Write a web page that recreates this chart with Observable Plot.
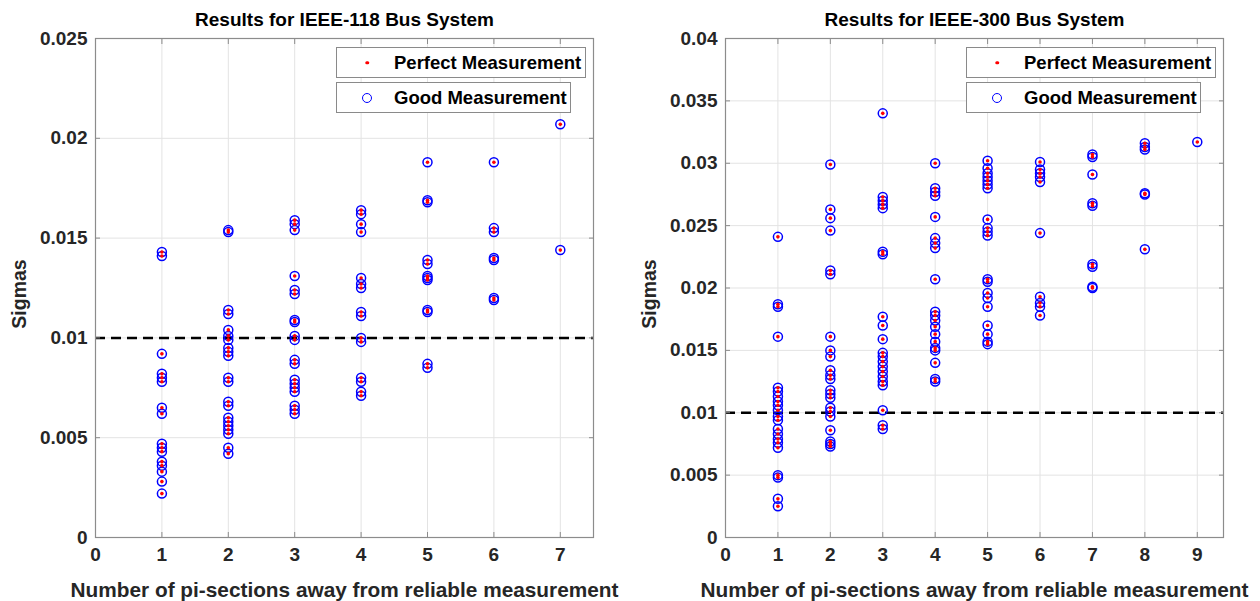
<!DOCTYPE html>
<html>
<head>
<meta charset="utf-8">
<script src="https://cdn.jsdelivr.net/npm/d3@7"></script>
<script src="https://cdn.jsdelivr.net/npm/@observablehq/plot@0.6"></script>
<style>
  body { margin: 0; background: #fff; font-family: "Liberation Sans", Arial, sans-serif; }
  #wrap { position: relative; width: 1260px; height: 601px; overflow: hidden; }
  .panel { position: absolute; top: 0; width: 630px; height: 601px; }
  .legend { position: absolute; background: #fff; border: 1.5px solid #8a8a8a; box-sizing: border-box;
            font-weight: bold; font-size: 18.5px; color: #000; }
  .legend .txt { position: absolute; left: 57px; top: 50%; transform: translateY(-50%); white-space: nowrap; }
  .legend .mk { position: absolute; left: 30px; top: 50%; transform: translate(-50%, -50%); border-radius: 50%; box-sizing: border-box; }
  .legend .mk.red { width: 3.5px; height: 3.5px; background: #ff0000; }
  .legend .mk.blue { width: 10px; height: 10px; border: 1.3px solid #0000ff; }
</style>
</head>
<body>
<div id="wrap">
  <div class="panel" id="p118" style="left:0px"></div>
  <div class="panel" id="p300" style="left:630px"></div>
</div>
<script>
// ---------- data ----------
const legendLabels = ["Perfect Measurement", "Good Measurement"];
const xLabel = "Number of pi-sections away from reliable measurement";
const yLabel = "Sigmas";
const threshold = 0.01;

// IEEE-118
const title118 = "Results for IEEE-118 Bus System";
const sections118 = [1, 2, 3, 4, 5, 6, 7];
const sigma118 = [
  [0.0143, 0.0141, 0.0092, 0.0082, 0.0080, 0.0078, 0.0065, 0.0062, 0.0047, 0.0045, 0.0043, 0.0038, 0.0036, 0.0033, 0.0028, 0.0022],
  [0.0154, 0.0153, 0.0114, 0.0112, 0.0104, 0.0101, 0.0099, 0.0095, 0.0093, 0.0091, 0.0080, 0.0078, 0.0068, 0.0066, 0.0060, 0.0058, 0.0056, 0.0054, 0.0052, 0.0045, 0.0042],
  [0.0159, 0.0157, 0.0154, 0.0131, 0.0124, 0.0122, 0.0109, 0.0108, 0.0101, 0.0099, 0.0089, 0.0087, 0.0079, 0.0077, 0.0075, 0.0073, 0.0066, 0.0064, 0.0062],
  [0.0164, 0.0162, 0.0157, 0.0153, 0.0130, 0.0127, 0.0125, 0.0113, 0.0111, 0.0100, 0.0098, 0.0080, 0.0078, 0.0073, 0.0071],
  [0.0188, 0.0169, 0.0168, 0.0139, 0.0137, 0.0131, 0.0130, 0.0129, 0.0114, 0.0113, 0.0087, 0.0085],
  [0.0188, 0.0155, 0.0153, 0.0140, 0.0139, 0.0120, 0.0119],
  [0.0207, 0.0144]
];
const xTicks118 = [0, 1, 2, 3, 4, 5, 6, 7];
const xTickLabels118 = ["0", "1", "2", "3", "4", "5", "6", "7"];
const yTicks118 = [0, 0.005, 0.01, 0.015, 0.02, 0.025];
const yTickLabels118 = ["0", "0.005", "0.01", "0.015", "0.02", "0.025"];
const xMax118 = 7.5, yMax118 = 0.025;

// IEEE-300
const title300 = "Results for IEEE-300 Bus System";
const sections300 = [1, 2, 3, 4, 5, 6, 7, 8, 9];
const sigma300 = [
  [0.0241, 0.0187, 0.0185, 0.0161, 0.0120, 0.0117, 0.0113, 0.0109, 0.0106, 0.0102, 0.0097, 0.0094, 0.0087, 0.0083, 0.0079, 0.0076, 0.0072, 0.0050, 0.0048, 0.0031, 0.0025],
  [0.0299, 0.0263, 0.0256, 0.0246, 0.0214, 0.0211, 0.0161, 0.0150, 0.0145, 0.0134, 0.0130, 0.0127, 0.0118, 0.0115, 0.0112, 0.0104, 0.0101, 0.0097, 0.0086, 0.0077, 0.0075, 0.0073],
  [0.0340, 0.0273, 0.0270, 0.0267, 0.0264, 0.0229, 0.0227, 0.0177, 0.0170, 0.0159, 0.0148, 0.0145, 0.0141, 0.0137, 0.0133, 0.0129, 0.0125, 0.0122, 0.0102, 0.0090, 0.0087],
  [0.0300, 0.0280, 0.0277, 0.0274, 0.0257, 0.0240, 0.0236, 0.0232, 0.0207, 0.0181, 0.0178, 0.0174, 0.0169, 0.0163, 0.0157, 0.0152, 0.0150, 0.0140, 0.0127, 0.0125],
  [0.0302, 0.0296, 0.0292, 0.0289, 0.0286, 0.0283, 0.0280, 0.0255, 0.0248, 0.0245, 0.0242, 0.0207, 0.0205, 0.0196, 0.0192, 0.0185, 0.0170, 0.0163, 0.0157, 0.0155],
  [0.0301, 0.0295, 0.0292, 0.0289, 0.0285, 0.0244, 0.0193, 0.0188, 0.0185, 0.0178],
  [0.0307, 0.0305, 0.0291, 0.0268, 0.0266, 0.0219, 0.0217, 0.0201, 0.0200],
  [0.0316, 0.0313, 0.0311, 0.0276, 0.0275, 0.0231],
  [0.0317]
];
const xTicks300 = [0, 1, 2, 3, 4, 5, 6, 7, 8, 9];
const xTickLabels300 = ["0", "1", "2", "3", "4", "5", "6", "7", "8", "9"];
const yTicks300 = [0, 0.005, 0.01, 0.015, 0.02, 0.025, 0.03, 0.035, 0.04];
const yTickLabels300 = ["0", "0.005", "0.01", "0.015", "0.02", "0.025", "0.03", "0.035", "0.04"];
const xMax300 = 9.5, yMax300 = 0.04;

// ---------- drawing ----------
function drawPanel(el, cfg) {
  const rows = cfg.sections.flatMap((s, i) => cfg.sigmas[i].map(v => ({section: s, sigma: v})));
  const axisColor = "#8c8c8c";
  const gridColor = "#e3e3e3";
  const fx = d => cfg.xLabels[cfg.xTicks.indexOf(d)];
  const fy = d => cfg.yLabels[cfg.yTicks.indexOf(d)];
  const chart = Plot.plot({
    width: 630, height: 601,
    marginLeft: 95, marginRight: 37, marginTop: 38, marginBottom: 64,
    style: {fontFamily: "'Liberation Sans', Arial, sans-serif", fontSize: "19px", fontWeight: "bold", color: "#262626", background: "white", overflow: "visible"},
    x: {domain: [0, cfg.xMax], label: null},
    y: {domain: [0, cfg.yMax], label: null},
    marks: [
      Plot.gridX(cfg.xTicks, {stroke: gridColor, strokeOpacity: 1}),
      Plot.gridY(cfg.yTicks, {stroke: gridColor, strokeOpacity: 1}),
      Plot.ruleY([threshold], {stroke: "black", strokeWidth: 2.5, strokeDasharray: "10,6"}),
      Plot.dot(rows, {x: "section", y: "sigma", r: 4.5, stroke: "#0000ff", strokeWidth: 1.5, fill: "none"}),
      Plot.dot(rows, {x: "section", y: "sigma", r: 1.8, fill: "#ff0000", stroke: "none"}),
      Plot.frame({stroke: axisColor, strokeWidth: 1.2}),
      Plot.axisX(cfg.xTicks, {anchor: "bottom", tickSize: -5, tickPadding: 15, stroke: axisColor, tickFormat: fx, fill: "#262626"}),
      Plot.axisX(cfg.xTicks, {anchor: "top", tickSize: -5, stroke: axisColor, tickFormat: () => ""}),
      Plot.axisY(cfg.yTicks, {anchor: "left", tickSize: -5, tickPadding: 13, stroke: axisColor, tickFormat: fy, fill: "#262626"}),
      Plot.axisY(cfg.yTicks, {anchor: "right", tickSize: -5, stroke: axisColor, tickFormat: () => ""}),
      Plot.text([cfg.title], {text: d => d, frameAnchor: "top", dy: -19, fontSize: 19, fontWeight: "bold", fill: "black", lineAnchor: "middle", textAnchor: "middle"}),
      Plot.text([xLabel], {text: d => d, frameAnchor: "bottom", dy: 53, fontSize: 20.8, fontWeight: "bold", fill: "#262626", lineAnchor: "middle", textAnchor: "middle"}),
      Plot.text([yLabel], {text: d => d, frameAnchor: "left", dx: -76, dy: 6, rotate: -90, fontSize: 19.5, fontWeight: "bold", fill: "#262626", lineAnchor: "middle", textAnchor: "middle"})
    ]
  });
  el.appendChild(chart);

  // legend boxes (two separate boxes, as in the reference)
  const boxes = [
    {top: 47, width: 250, cls: "red", label: legendLabels[0]},
    {top: 82, width: 235, cls: "blue", label: legendLabels[1]}
  ];
  boxes.forEach(b => {
    const d = document.createElement("div");
    d.className = "legend";
    d.style.left = "336px";
    d.style.top = b.top + "px";
    d.style.width = b.width + "px";
    d.style.height = "31px";
    d.innerHTML = `<span class="mk ${b.cls}"></span><span class="txt">${b.label}</span>`;
    el.appendChild(d);
  });
}

drawPanel(document.getElementById("p118"), {
  title: title118, sections: sections118, sigmas: sigma118,
  xTicks: xTicks118, xLabels: xTickLabels118, yTicks: yTicks118, yLabels: yTickLabels118,
  xMax: xMax118, yMax: yMax118
});
drawPanel(document.getElementById("p300"), {
  title: title300, sections: sections300, sigmas: sigma300,
  xTicks: xTicks300, xLabels: xTickLabels300, yTicks: yTicks300, yLabels: yTickLabels300,
  xMax: xMax300, yMax: yMax300
});
</script>
</body>
</html>
